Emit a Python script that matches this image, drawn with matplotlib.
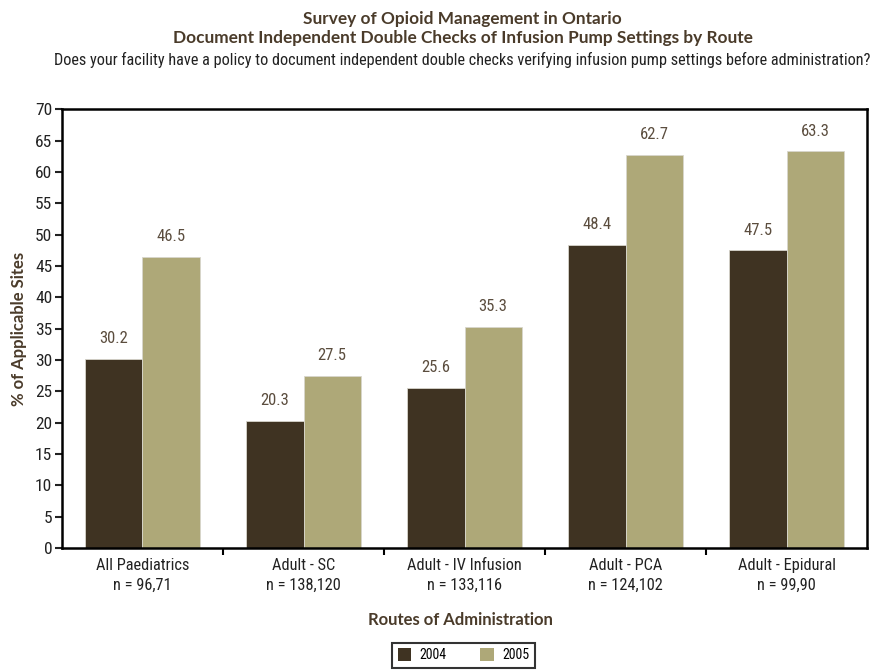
import matplotlib
matplotlib.use('Agg')
import matplotlib.pyplot as plt
from matplotlib import font_manager
import numpy as np
from matplotlib.patches import Patch

# pick a narrow face for the numbers and tick labels if one is installed
names = set(f.name for f in font_manager.fontManager.ttflist)
narrow = None
stretch = 'normal'
for cand in ['Liberation Sans Narrow', 'Roboto Condensed', 'Open Sans Condensed']:
    if cand in names:
        narrow = cand
        break
if narrow is None:
    dv_cond = [f for f in font_manager.fontManager.ttflist
               if f.name == 'DejaVu Sans' and 'Condensed' in f.fname]
    if dv_cond:
        narrow, stretch = 'DejaVu Sans', 'condensed'
    elif 'Roboto' in names:
        narrow = 'Roboto'
    else:
        narrow = 'DejaVu Sans'

plt.rcParams['font.family'] = [narrow, 'DejaVu Sans']
plt.rcParams['font.stretch'] = stretch
bold_family = ['Lato', 'DejaVu Sans']

routes = ['All Paediatrics', 'Adult - SC', 'Adult - IV Infusion', 'Adult - PCA', 'Adult - Epidural']
counts = ['n = 96,71', 'n = 138,120', 'n = 133,116', 'n = 124,102', 'n = 99,90']
pct_2004 = [30.2, 20.3, 25.6, 48.4, 47.5]
pct_2005 = [46.5, 27.5, 35.3, 62.7, 63.3]
years = ['2004', '2005']

dark = '#3f3322'
light = '#aea878'
brown = '#4a3b2a'

fig = plt.figure(figsize=(8.78, 6.70), dpi=100)
ax = fig.add_axes([0.0706, 0.182, 0.917, 0.655])

x = np.arange(len(routes))
w = 0.355
b1 = ax.bar(x - w/2, pct_2004, w, color=dark, edgecolor='#d8d6cc', linewidth=0.6)
b2 = ax.bar(x + w/2, pct_2005, w, color=light, edgecolor='#d8d6cc', linewidth=0.6)

for bars, vals in ((b1, pct_2004), (b2, pct_2005)):
    for r, v in zip(bars, vals):
        ax.text(r.get_x() + r.get_width()/2, v + 2.0, '%.1f' % v,
                ha='center', va='bottom', fontsize=12, color='#5b4d3e')

ax.set_xlim(-0.5, len(routes) - 0.5)
ax.set_ylim(0, 70)
ax.set_yticks(np.arange(0, 71, 5))
ax.set_xticks(np.arange(0.5, len(routes) - 0.5, 1))
ax.set_xticklabels([])
ax.tick_params(axis='y', direction='out', length=5, width=1.5, labelsize=12.5, colors='#222222', pad=2)
ax.tick_params(axis='x', direction='out', length=5, width=1.5)
for s in ax.spines.values():
    s.set_linewidth(1.8)
    s.set_color('black')

cat_labels = []
for i in x:
    t = ax.text(i, -1.6, routes[i] + '\n' + counts[i], ha='center', va='top',
                fontsize=11.8, color='#222222', linespacing=1.4)
    cat_labels.append(t)

ax.set_ylabel('% of Applicable Sites', fontsize=12, fontweight='bold',
              family=bold_family, color=brown, labelpad=6)
fig.text(0.524, 0.075, 'Routes of Administration', ha='center', va='center',
         fontsize=12, fontweight='bold', family=bold_family, color=brown)

fig.text(0.527, 0.972, 'Survey of Opioid Management in Ontario', ha='center', va='center',
         fontsize=12.4, fontweight='bold', family=bold_family, color=brown)
fig.text(0.527, 0.943, 'Document Independent Double Checks of Infusion Pump Settings by Route',
         ha='center', va='center', fontsize=12.4, fontweight='bold',
         family=bold_family, color=brown)
question = fig.text(0.526, 0.910, 'Does your facility have a policy to document independent double checks '
                    'verifying infusion pump settings before administration?',
                    ha='center', va='center', fontsize=14, color='#222222')

# keep the long question line inside the figure width
fig.canvas.draw()
renderer = fig.canvas.get_renderer()
qw = question.get_window_extent(renderer).width
if abs(qw - 825) > 4:
    question.set_fontsize(14 * 825 / qw)
for t in cat_labels:
    tw = t.get_window_extent(renderer).width
    if tw > 150:
        t.set_fontsize(11.8 * 150 / tw)

handles = [Patch(facecolor=dark, label=years[0]), Patch(facecolor=light, label=years[1])]
leg = fig.legend(handles=handles, loc='center', bbox_to_anchor=(0.528, 0.022), ncol=2,
                 frameon=True, fontsize=10, handlelength=1.0, handleheight=1.0,
                 columnspacing=2.4, handletextpad=0.6, borderpad=0.4, fancybox=False)
leg.get_frame().set_edgecolor('black')
leg.get_frame().set_linewidth(1.5)

fig.savefig('out.png', dpi=100)
